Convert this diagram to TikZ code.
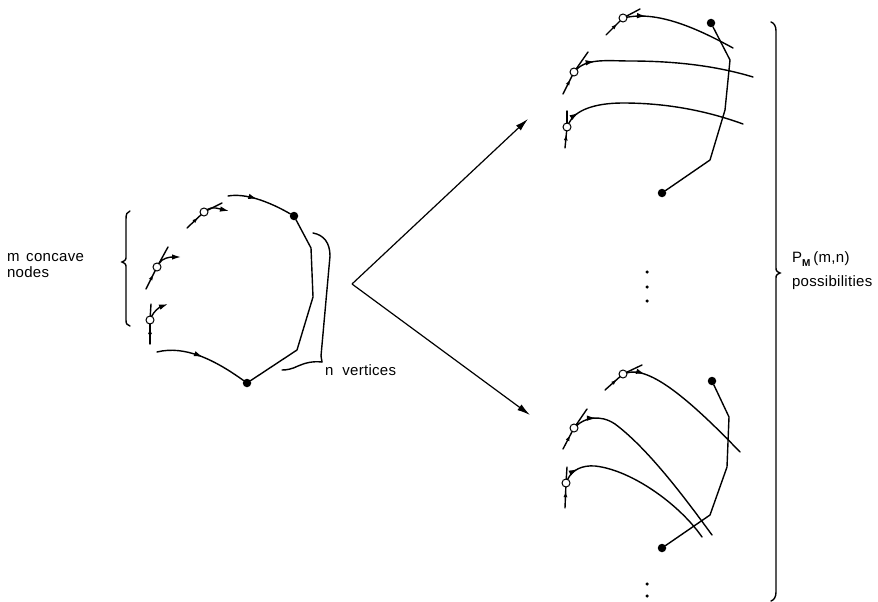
\documentclass[tikz,border=0pt]{standalone}
\usepackage{fontspec}
\setmainfont{Liberation Sans}[LetterSpace=2]
\usetikzlibrary{arrows.meta,decorations.markings}
\begin{document}
\begin{tikzpicture}[x=1pt,y=-1pt,
  every node/.style={inner sep=0pt, outer sep=0pt},
  ln/.style={line width=1.4pt, line cap=round, line join=round},
  opennode/.style={circle, draw, fill=white, line width=1pt, minimum size=8pt},
  vdot/.style={circle, fill=black, minimum size=8.5pt},
  midarrow/.style={postaction={decorate},decoration={markings,mark=at position #1 with {\arrow{Latex[length=9pt,width=5.5pt]}}}},
  inarrow/.style={postaction={decorate},decoration={markings,mark=at position #1 with {\arrow{Latex[length=6pt,width=4pt]}}}},
  outarrow/.style={-{Latex[length=9pt,width=5.5pt]}},
  bigarrow/.style={line width=1.2pt, -{Latex[length=13pt,width=7pt]}},
  lbl/.style={font=\fontsize{15}{16}\selectfont, anchor=base west},
  bracestyle/.style={line width=1.4pt, line cap=round},
  ell/.style={circle, fill=black, minimum size=3.5pt}
]
\useasboundingbox (0,0) rectangle (878,602);

% ---------------- left figure ----------------
\node[opennode] (L1) at (204,212) {};
\node[opennode] (L2) at (157,267) {};
\node[opennode] (L3) at (150,320) {};
\node[vdot] (LD1) at (294,216) {};
\node[vdot] (LD2) at (247,383) {};
\coordinate (L1a) at (187,228); \coordinate (L1b) at (222,203); \coordinate (L1o) at (229,211);
\coordinate (L2a) at (146,289); \coordinate (L2b) at (168,247); \coordinate (L2o) at (181,257);
\coordinate (L3a) at (150,344); \coordinate (L3b) at (151,304); \coordinate (L3o) at (168,304);
\coordinate (Ltop) at (228,196);
\coordinate (Lbot) at (157,352);
\coordinate (Lp1) at (311,248); \coordinate (Lp2) at (313,297); \coordinate (Lp3) at (297,350);

\draw[ln, inarrow=0.8] (L1a) -- (L1); \draw[ln] (L1) -- (L1b);
\draw[ln, outarrow] (L1) .. controls (212,206) and (220,209) .. (L1o);
\draw[ln, inarrow=0.8] (L2a) -- (L2); \draw[ln] (L2) -- (L2b);
\draw[ln, outarrow] (L2) .. controls (162,258) and (170,257) .. (L2o);
\draw[ln, inarrow=0.8] (L3a) -- (L3); \draw[ln] (L3) -- (L3b);
\draw[ln, outarrow] (L3) .. controls (154,311) and (160,307) .. (L3o);

\draw[ln, midarrow=0.45] (Ltop) .. controls (245,193) and (268,201) .. (LD1);
\draw[ln] (LD1) -- (Lp1) -- (Lp2) -- (Lp3) -- (LD2);
\draw[ln, midarrow=0.5] (Lbot) .. controls (185,345) and (215,360) .. (LD2);

% left brace
\coordinate (lbt) at (130,211); \coordinate (lbtip) at (122,262); \coordinate (lbb) at (130,326);
\draw[bracestyle] (lbt) .. controls (127,212) and (126,214) .. (126,219) -- (126,256)
  .. controls (126,260) .. (lbtip) .. controls (126,264) .. (126,268) -- (126,320)
  .. controls (126,324) and (127,325) .. (lbb);

% n-vertices brace
\coordinate (nbt) at (313,233); \coordinate (nbtip) at (322,362); \coordinate (nbb) at (282,370);
\draw[bracestyle] (nbt) .. controls (324,235) and (330,243) .. (330,256) -- (321,356)
  .. controls (321,359) .. (nbtip);
\draw[bracestyle] (nbtip) .. controls (312,361) and (305,363) .. (298,366) .. controls (292,369) and (287,370) .. (nbb);

\node[lbl] (mlab1) at (7,261) {m\hspace{0.45em}concave};
\node[lbl] (mlab2) at (7,277) {nodes};
\node[lbl] (nlab) at (325,375) {n\hspace{0.6em}vertices};

% ---------------- big arrows ----------------
\coordinate (apex) at (352,284);
\coordinate (topT) at (528,119);
\coordinate (botT) at (530,415);
\draw[bigarrow] (apex) -- (topT);
\draw[bigarrow] (apex) -- (botT);

% ---------------- top right figure ----------------
\node[opennode] (T1) at (623,18) {};
\node[opennode] (T2) at (574,72) {};
\node[opennode] (T3) at (567,127) {};
\node[vdot] (TD1) at (711,23) {};
\node[vdot] (TD2) at (662,193) {};
\coordinate (Tp1) at (730,60); \coordinate (Tp2) at (725,110); \coordinate (Tp3) at (710,160);
\draw[ln] (TD1) -- (Tp1) -- (Tp2) -- (Tp3) -- (TD2);
\coordinate (T1a) at (606,35); \coordinate (T1b) at (640,9); \coordinate (T1e) at (733,48);
\coordinate (T2a) at (563,94); \coordinate (T2b) at (588,52); \coordinate (T2e) at (753,77);
\coordinate (T3a) at (565,148); \coordinate (T3b) at (567,111); \coordinate (T3e) at (743,124);
\draw[ln, inarrow=0.8] (T1a) -- (T1); \draw[ln] (T1) -- (T1b);
\draw[ln, inarrow=0.8] (T2a) -- (T2); \draw[ln] (T2) -- (T2b);
\draw[ln, inarrow=0.8] (T3a) -- (T3); \draw[ln] (T3) -- (T3b);
\draw[ln, midarrow=0.17] (T1) .. controls (660,11) and (700,30) .. (T1e);
\draw[ln, midarrow=0.11] (T2) .. controls (588,58) and (610,61) .. (630,61) .. controls (680,61) and (720,67) .. (T2e);
\draw[ln, midarrow=0.08] (T3) .. controls (575,110) and (595,103) .. (623,103) .. controls (670,103) and (710,112) .. (T3e);

% vertical ellipsis
\node[ell] (e1) at (647,272) {};
\node[ell] (e2) at (647,287) {};
\node[ell] (e3) at (647,301) {};

% ---------------- bottom right figure ----------------
\node[opennode] (B1) at (623,374) {};
\node[opennode] (B2) at (574,428) {};
\node[opennode] (B3) at (566,483) {};
\node[vdot] (BD1) at (712,381) {};
\node[vdot] (BD2) at (662,548) {};
\coordinate (Bp1) at (729,417); \coordinate (Bp2) at (727,467); \coordinate (Bp3) at (710,515);
\draw[ln] (BD1) -- (Bp1) -- (Bp2) -- (Bp3) -- (BD2);
\coordinate (B1a) at (605,390); \coordinate (B1b) at (642,365); \coordinate (B1e) at (740,452);
\coordinate (B2a) at (563,449); \coordinate (B2b) at (587,409); \coordinate (B2e) at (712,535);
\coordinate (B3a) at (565,508); \coordinate (B3b) at (567,467); \coordinate (B3e) at (702,537);
\draw[ln, inarrow=0.8] (B1a) -- (B1); \draw[ln] (B1) -- (B1b);
\draw[ln, inarrow=0.8] (B2a) -- (B2); \draw[ln] (B2) -- (B2b);
\draw[ln, inarrow=0.8] (B3a) -- (B3); \draw[ln] (B3) -- (B3b);
\draw[ln, midarrow=0.13] (B1) .. controls (650,366) and (690,400) .. (B1e);
\draw[ln, midarrow=0.11] (B2) .. controls (585,418) and (600,414) .. (615,424) .. controls (650,450) and (690,505) .. (B2e);
\draw[ln, midarrow=0.09] (B3) .. controls (572,470) and (582,465) .. (595,466) .. controls (632,470) and (680,505) .. (B3e);

\node[ell] (e4) at (647,584) {};
\node[ell] (e5) at (647,596) {};

% ---------------- right brace ----------------
\coordinate (rbt) at (771,22); \coordinate (rbtip) at (780,273); \coordinate (rbb) at (771,601);
\draw[bracestyle] (rbt) .. controls (774,23) and (776,26) .. (776,31) -- (776,267)
  .. controls (776,271) .. (rbtip) .. controls (776,275) .. (776,279) -- (776,592)
  .. controls (776,597) and (774,600) .. (rbb);

\node[lbl] (plab) at (792,262) {P\raisebox{-4pt}{\fontsize{10}{10}\selectfont\bfseries M}\hspace{3pt}(m,n)};
\node[lbl] (plab2) at (792,286) {possibilities};
\end{tikzpicture}
\end{document}
